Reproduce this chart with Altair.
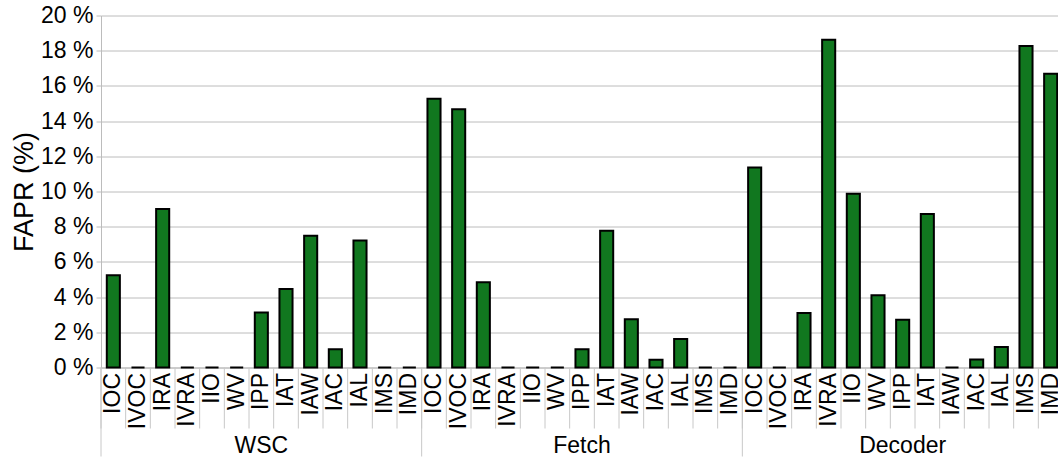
import altair as alt
import pandas as pd

# FAPR per injected fault type, grouped by the unit under test
groups = ["WSC", "Fetch", "Decoder"]
categories = ["IOC", "IVOC", "IRA", "IVRA", "IIO", "WV", "IPP",
              "IAT", "IAW", "IAC", "IAL", "IMS", "IMD"]
wsc_values = [5.24, 0, 9.00, 0, 0, 0, 3.13, 4.46, 7.49, 1.03, 7.22, 0, 0]
fetch_values = [15.27, 14.67, 4.85, 0, 0, 0, 1.03, 7.77, 2.74, 0.44, 1.62, 0, 0]
decoder_values = [11.37, 0, 3.09, 18.62, 9.87, 4.10, 2.71, 8.72, 0, 0.46, 1.16, 18.26, 16.69]
y_ticks = [0, 2, 4, 6, 8, 10, 12, 14, 16, 18, 20]

series = dict(zip(groups, [wsc_values, fetch_values, decoder_values]))
rows = []
for g in groups:
    for i, c in enumerate(categories):
        rows.append({"key": f"{g}|{c}", "group": g, "cat": c,
                     "fapr": series[g][i], "first": i == 0})
df = pd.DataFrame(rows)
keys = list(df["key"])

FONT = "Liberation Sans"
GRID = "#bcbcbc"
PLOT_W, PLOT_H = 962, 352

x_enc = alt.X("key:N", sort=keys, title=None,
              scale=alt.Scale(paddingInner=0, paddingOuter=0))

bars = alt.Chart(df).mark_bar(
    width=alt.RelativeBandSize(0.53), fill="#11771f",
    stroke="black", strokeWidth=2,
).encode(
    x=x_enc,
    y=alt.Y("fapr:Q", title="FAPR (%)",
            scale=alt.Scale(domain=[0, 20], nice=False, zero=True),
            axis=alt.Axis(values=y_ticks, labelExpr="datum.value + ' %'")),
)

# light separators between categories below the axis
cat_seps = alt.Chart(df).mark_rule(color="#c8c8c8", strokeWidth=1).encode(
    x=alt.X("key:N", sort=keys, title=None, bandPosition=0),
    y=alt.value(PLOT_H), y2=alt.value(PLOT_H + 61),
)

# longer separators at the start of each group
group_seps = alt.Chart(df[df["first"]]).mark_rule(color="#c8c8c8", strokeWidth=1).encode(
    x=alt.X("key:N", sort=keys, title=None, bandPosition=0),
    y=alt.value(PLOT_H), y2=alt.value(PLOT_H + 89),
)

group_labels = alt.Chart(df[df["cat"] == "IPP"]).mark_text(
    font=FONT, fontSize=23, baseline="middle", align="center", color="black",
).encode(
    x=alt.X("key:N", sort=keys, title=None),
    y=alt.value(PLOT_H + 78),
    text="group:N",
)

chart = alt.layer(cat_seps, group_seps, bars, group_labels).properties(
    width=PLOT_W, height=PLOT_H,
    autosize=alt.AutoSizeParams(type="none"),
    padding={"left": 101, "top": 15.5, "right": -5, "bottom": 92.5},
    background="white",
).configure_view(stroke=None).configure_axisX(
    labelExpr="split(datum.label, '|')[1]",
    labelAngle=270, labelAlign="right", labelBaseline="middle",
    labelFont=FONT, labelFontSize=23, labelColor="black", labelPadding=5,
    ticks=False, tickSize=0, domainColor=GRID, domainWidth=1, grid=False,
    labelOverlap=False,
).configure_axisY(
    labelFont=FONT, labelFontSize=23, labelColor="black", labelPadding=3,
    tickColor=GRID, tickSize=5, domainColor=GRID, gridColor=GRID,
    titleFont=FONT, titleFontSize=27, titleFontWeight="normal",
    titleColor="black", titlePadding=2,
)

chart.save("out.html", embed_options={"renderer": "svg", "actions": False})
